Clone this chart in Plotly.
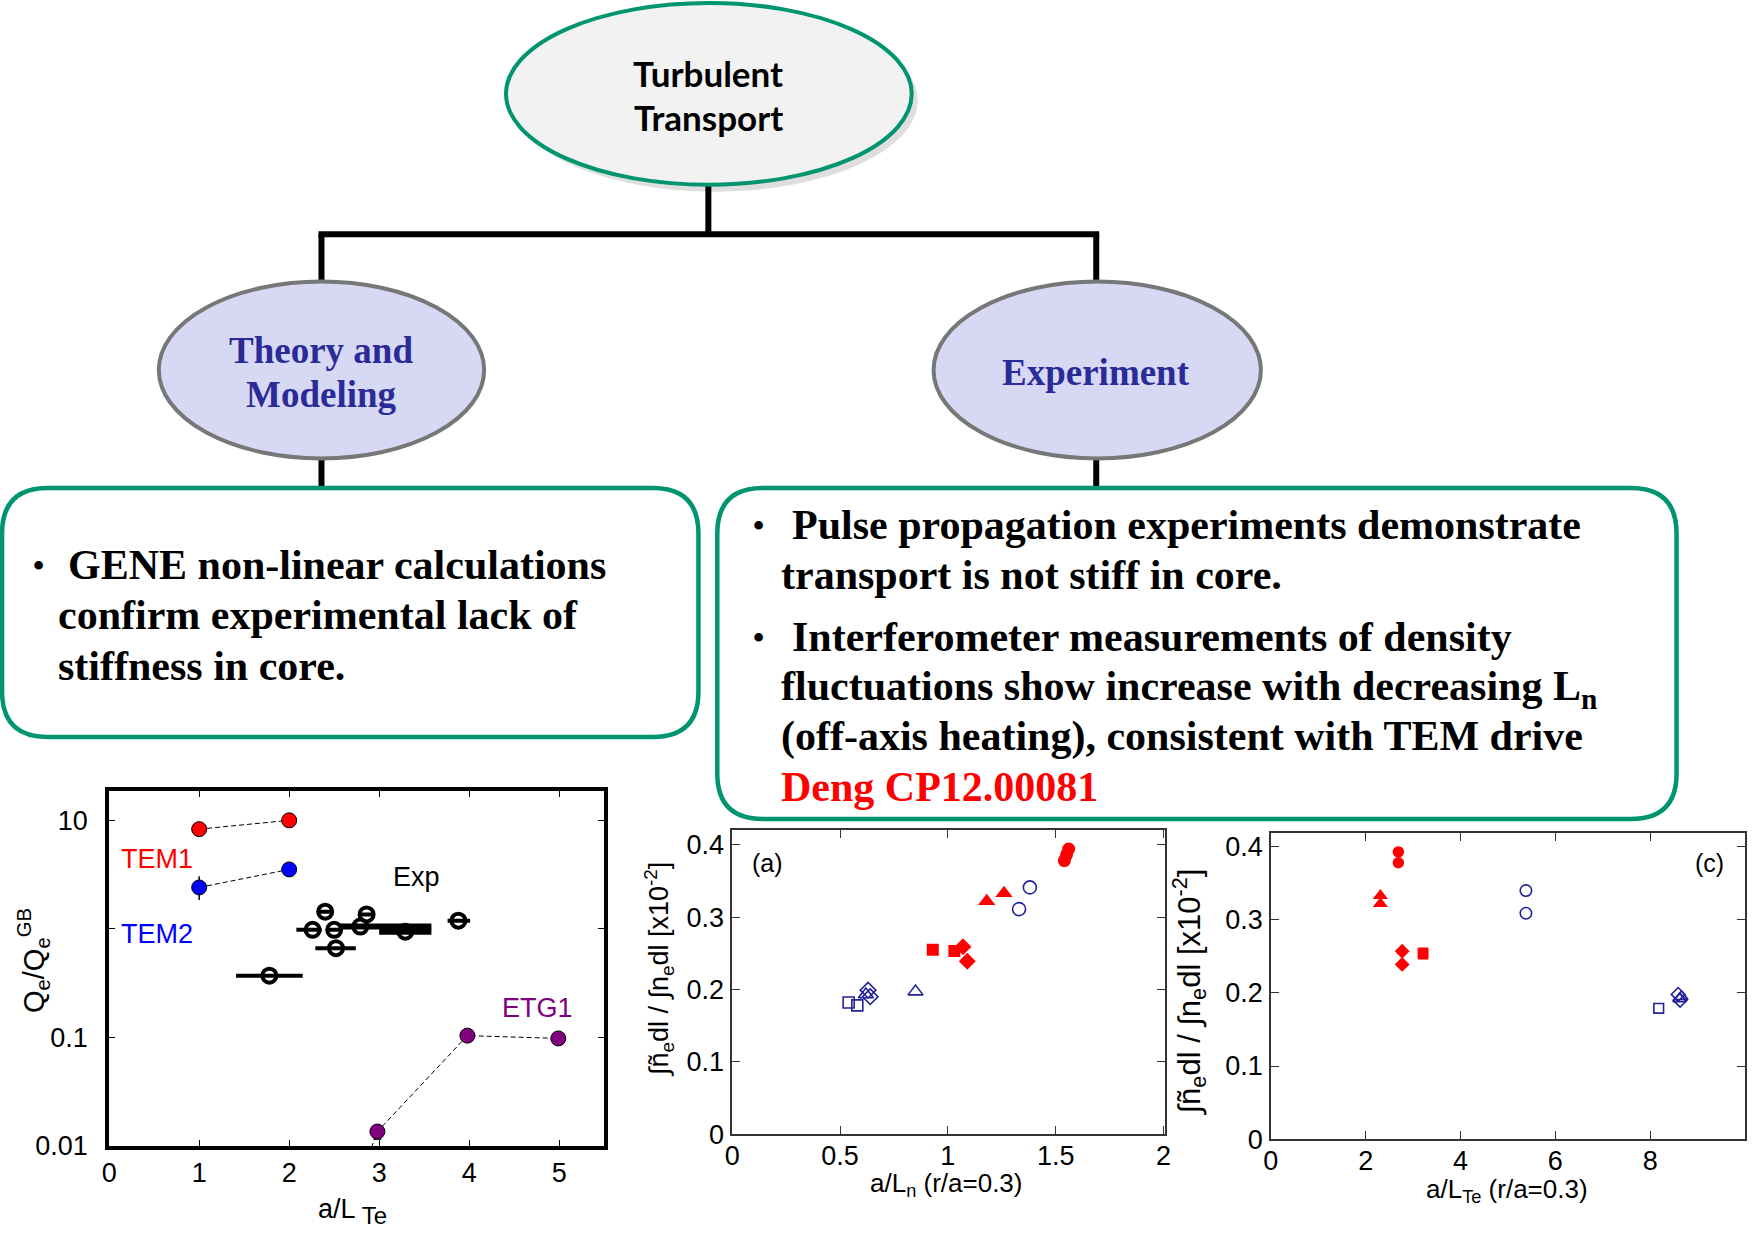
import plotly.graph_objects as go

W, H = 1752, 1246
SERIF = "Liberation Serif, Times New Roman, serif"
SANS = "Liberation Sans, Arial, sans-serif"
CAL = "Lato, Open Sans, sans-serif"
GREEN = "#00956f"
RED = "#ff0000"
NAVY = "#22229a"


def X(p):
    return p / W


def Y(p):
    return 1 - p / H


# ---------------- data: GENE panel (left) ----------------
tem1_x = [1, 2]
tem1_y = [8.3, 10.0]
tem2_x = [1, 2]
tem2_y = [2.41, 3.53]
tem2_err_plus = [0.65, 0.0]
tem2_err_minus = [0.56, 0.0]
etg1_x = [2.82, 2.98, 3.98, 4.99]
etg1_y = [0.006, 0.0136, 0.104, 0.098]
etg1_err_plus = [0, 0.0, 0, 0]
etg1_err_minus = [0, 0.002, 0, 0]
# experimental points, thin error bars
exp_x = [1.78, 2.40, 2.26, 2.50, 2.52, 2.86, 3.88]
exp_y = [0.371, 1.44, 0.98, 0.98, 0.665, 1.36, 1.19]
exp_xerr_plus = [0.37, 0.06, 0.10, 0.06, 0.22, 0.06, 0.13]
exp_xerr_minus = [0.37, 0.06, 0.18, 0.06, 0.23, 0.06, 0.12]
# experimental points with heavy error bars
expb_x = [2.79, 3.29]
expb_y = [1.05, 0.944]
expb_xerr_plus = [0.79, 0.29]
expb_xerr_minus = [0.24, 0.29]
left_xticks = [0, 1, 2, 3, 4, 5]
left_yticks = [0.01, 0.1, 1, 10]
left_yticktext = ["0.01", "0.1", "", "10"]

# ---------------- data: panel (a)  vs a/Ln ----------------
a_red_circle_x = [1.54, 1.55, 1.56]
a_red_circle_y = [0.378, 0.386, 0.394]
a_red_tri_x = [1.18, 1.26]
a_red_tri_y = [0.322, 0.333]
a_red_sq_x = [0.93, 1.03]
a_red_sq_y = [0.255, 0.253]
a_red_dia_x = [1.07, 1.09]
a_red_dia_y = [0.259, 0.239]
a_blue_circle_x = [1.33, 1.38]
a_blue_circle_y = [0.311, 0.341]
a_blue_tri_x = [0.85, 0.62]
a_blue_tri_y = [0.197, 0.193]
a_blue_sq_x = [0.54, 0.58]
a_blue_sq_y = [0.182, 0.178]
a_blue_dia_x = [0.63, 0.64]
a_blue_dia_y = [0.199, 0.190]

# ---------------- data: panel (c)  vs a/LTe ----------------
c_red_circle_x = [2.69, 2.69]
c_red_circle_y = [0.393, 0.378]
c_red_tri_x = [2.31, 2.31]
c_red_tri_y = [0.333, 0.322]
c_red_sq_x = [3.21, 3.21]
c_red_sq_y = [0.255, 0.253]
c_red_dia_x = [2.77, 2.77]
c_red_dia_y = [0.257, 0.239]
c_blue_circle_x = [5.38, 5.38]
c_blue_circle_y = [0.340, 0.309]
c_blue_tri_x = [8.66, 8.62]
c_blue_tri_y = [0.195, 0.192]
c_blue_sq_x = [8.18]
c_blue_sq_y = [0.179]
c_blue_dia_x = [8.59, 8.63]
c_blue_dia_y = [0.198, 0.190]

a_xticks = [0, 0.5, 1, 1.5, 2]
a_xticktext = ["0", "0.5", "1", "1.5", "2"]
c_xticks = [0, 2, 4, 6, 8, 10]
ab_yticks = [0, 0.1, 0.2, 0.3, 0.4]
ab_yticktext = ["0", "0.1", "0.2", "0.3", "0.4"]

fig = go.Figure()

# ---- left panel traces ----
dash = "5px,3px"
fig.add_trace(go.Scatter(
    x=tem1_x, y=tem1_y, mode="lines+markers", xaxis="x", yaxis="y",
    line=dict(color="black", width=1, dash=dash),
    marker=dict(size=15, color=RED, line=dict(color="black", width=1))))
fig.add_trace(go.Scatter(
    x=tem2_x, y=tem2_y, mode="lines+markers", xaxis="x", yaxis="y",
    line=dict(color="black", width=1, dash=dash),
    marker=dict(size=15, color="#0000ff", line=dict(color="black", width=1)),
    error_y=dict(type="data", array=tem2_err_plus, arrayminus=tem2_err_minus,
                 color="black", thickness=1.5, width=0)))
fig.add_trace(go.Scatter(
    x=etg1_x, y=etg1_y, mode="lines+markers", xaxis="x", yaxis="y",
    line=dict(color="black", width=1, dash=dash),
    marker=dict(size=15, color="#800080", line=dict(color="black", width=1)),
    error_y=dict(type="data", array=etg1_err_plus, arrayminus=etg1_err_minus,
                 color="black", thickness=1.2, width=4)))
fig.add_trace(go.Scatter(
    x=exp_x, y=exp_y, mode="markers", xaxis="x", yaxis="y",
    marker=dict(symbol="circle-open", size=14, color="black", line=dict(width=4)),
    error_x=dict(type="data", array=exp_xerr_plus, arrayminus=exp_xerr_minus,
                 color="black", thickness=4, width=0)))
fig.add_trace(go.Scatter(
    x=expb_x, y=expb_y, mode="markers", xaxis="x", yaxis="y",
    marker=dict(symbol="circle-open", size=14, color="black", line=dict(width=4)),
    error_x=dict(type="data", array=expb_xerr_plus, arrayminus=expb_xerr_minus,
                 color="black", thickness=6, width=0)))


def group(xs, ys, sym, color, size, ax, ay, open_=False):
    if open_:
        m = dict(symbol=sym + "-open", size=size, color=color, line=dict(width=1.6))
    else:
        m = dict(symbol=sym, size=size, color=color, line=dict(width=0))
    fig.add_trace(go.Scatter(x=xs, y=ys, mode="markers", marker=m, xaxis=ax, yaxis=ay))


for (ax, ay, s, d) in [("x2", "y2", 1.0, dict(
        rc=(a_red_circle_x, a_red_circle_y), rt=(a_red_tri_x, a_red_tri_y),
        rs=(a_red_sq_x, a_red_sq_y), rd=(a_red_dia_x, a_red_dia_y),
        bc=(a_blue_circle_x, a_blue_circle_y), bt=(a_blue_tri_x, a_blue_tri_y),
        bs=(a_blue_sq_x, a_blue_sq_y), bd=(a_blue_dia_x, a_blue_dia_y))),
        ("x3", "y3", 0.88, dict(
        rc=(c_red_circle_x, c_red_circle_y), rt=(c_red_tri_x, c_red_tri_y),
        rs=(c_red_sq_x, c_red_sq_y), rd=(c_red_dia_x, c_red_dia_y),
        bc=(c_blue_circle_x, c_blue_circle_y), bt=(c_blue_tri_x, c_blue_tri_y),
        bs=(c_blue_sq_x, c_blue_sq_y), bd=(c_blue_dia_x, c_blue_dia_y)))]:
    group(*d["bc"], "circle", NAVY, 13 * s, ax, ay, True)
    group(*d["bt"], "triangle-up", NAVY, 13 * s, ax, ay, True)
    group(*d["bs"], "square", NAVY, 11 * s, ax, ay, True)
    group(*d["bd"], "diamond", NAVY, 12 * s, ax, ay, True)
    group(*d["rc"], "circle", RED, 13 * s, ax, ay)
    group(*d["rt"], "triangle-up", RED, 15 * s, ax, ay)
    group(*d["rs"], "square", RED, 12 * s, ax, ay)
    group(*d["rd"], "diamond", RED, 13 * s, ax, ay)

# ---- axes ----
tickfont = dict(family=SANS, size=27, color="black")
left_ax = dict(showgrid=False, zeroline=False, showline=True, mirror="ticks",
               linecolor="black", linewidth=4, ticks="inside", ticklen=6,
               tickwidth=1, tickcolor="black", tickfont=tickfont)
fig.update_layout(
    xaxis=dict(left_ax, domain=[X(102), X(601)], range=[0, 5.5],
               tickvals=left_xticks, anchor="y", ticklabelstandoff=0),
    yaxis=dict(left_ax, domain=[Y(1160), Y(801)], type="log", range=[-2, 1.267],
               tickvals=left_yticks, ticktext=left_yticktext, anchor="x",
               ticklabelstandoff=12),
)
r_ax = dict(showgrid=False, zeroline=False, showline=True, mirror="ticks",
            linecolor="#333333", linewidth=1.5, ticks="inside", ticklen=8,
            tickwidth=1.2, tickcolor="#333333", tickfont=tickfont)
fig.update_layout(
    xaxis2=dict(r_ax, domain=[X(730), X(1166)], range=[0, 2.005],
                tickvals=a_xticks, ticktext=a_xticktext, anchor="y2",
                ticklabelstandoff=-3),
    yaxis2=dict(r_ax, domain=[Y(1148), Y(840)], range=[0, 0.4205],
                tickvals=ab_yticks, ticktext=ab_yticktext, anchor="x2",
                ticklabelstandoff=1),
    xaxis3=dict(r_ax, domain=[X(1273), X(1751)], range=[0, 10],
                tickvals=c_xticks, anchor="y3", ticklabelstandoff=-3),
    yaxis3=dict(r_ax, domain=[Y(1153), Y(843)], range=[0, 0.419],
                tickvals=ab_yticks, ticktext=ab_yticktext, anchor="x3",
                ticklabelstandoff=1),
)

# ---- diagram shapes ----
shapes = []


def line(x0, y0, x1, y1, w=6):
    shapes.append(dict(type="line", xref="paper", yref="paper",
                       x0=X(x0), y0=Y(y0), x1=X(x1), y1=Y(y1),
                       line=dict(color="black", width=w)))


def ellipse(x0, y0, x1, y1, fill, lc, lw):
    shapes.append(dict(type="circle", xref="paper", yref="paper",
                       x0=X(x0), y0=Y(y1), x1=X(x1), y1=Y(y0),
                       fillcolor=fill, line=dict(color=lc, width=lw)))


def rbox(x0, y0, x1, y1, r, lc, lw):
    p = (f"M {X(x0 + r)},{Y(y0)} L {X(x1 - r)},{Y(y0)} Q {X(x1)},{Y(y0)} {X(x1)},{Y(y0 + r)} "
         f"L {X(x1)},{Y(y1 - r)} Q {X(x1)},{Y(y1)} {X(x1 - r)},{Y(y1)} "
         f"L {X(x0 + r)},{Y(y1)} Q {X(x0)},{Y(y1)} {X(x0)},{Y(y1 - r)} "
         f"L {X(x0)},{Y(y0 + r)} Q {X(x0)},{Y(y0)} {X(x0 + r)},{Y(y0)} Z")
    shapes.append(dict(type="path", xref="paper", yref="paper", path=p,
                       fillcolor="white", line=dict(color=lc, width=lw)))


line(706, 185, 706, 237)
line(313, 237, 1100, 237)
line(316, 237, 316, 287)
line(1097, 237, 1097, 287)
line(316, 462, 316, 496)
line(1097, 462, 1097, 496)
# shadow of top ellipse
ellipse(508, 9, 917, 194, "rgba(0,0,0,0.13)", "rgba(0,0,0,0)", 0)
ellipse(502, 3, 911, 187, "#f2f2f2", GREEN, 4)
ellipse(152, 285, 480, 464, "#d6d8f4", "#777777", 4)
ellipse(933, 285, 1263, 464, "#d6d8f4", "#777777", 4)
rbox(-6, 494, 696, 746, 46, GREEN, 4.5)
rbox(715, 494, 1682, 829, 46, GREEN, 4.5)

# ---- annotations ----
anns = []


def ann(text, x, y, size, color="black", family=SERIF, xanchor="left", angle=0,
        xref="paper", yref="paper", paper=True):
    anns.append(dict(text=text, x=X(x) if paper else x, y=Y(y) if paper else y,
                     xref=xref, yref=yref, showarrow=False, xanchor=xanchor,
                     yanchor="middle", textangle=angle,
                     font=dict(family=family, size=size, color=color)))


ann("<b>Turbulent</b>", 706, 74, 35, family=CAL, xanchor="center")
ann("<b>Transport</b>", 706, 118, 35, family=CAL, xanchor="center")
ann("<b>Theory and</b>", 316, 355, 37, color="#2b2b98", xanchor="center")
ann("<b>Modeling</b>", 316, 399, 37, color="#2b2b98", xanchor="center")
ann("<b>Experiment</b>", 1097, 377, 37, color="#2b2b98", xanchor="center")

ann("<b>•</b>", 31, 572, 32, xanchor="center")
ann("<b>GENE non-linear calculations</b>", 58, 572, 42)
ann("<b>confirm experimental lack of</b>", 48, 622, 42)
ann("<b>stiffness in core.</b>", 48, 674, 42)

ann("<b>•</b>", 757, 531, 32, xanchor="center")
ann("<b>Pulse propagation experiments demonstrate</b>", 788, 531, 42)
ann("<b>transport is not stiff in core.</b>", 777, 582, 42)
ann("<b>•</b>", 757, 645, 32, xanchor="center")
ann("<b>Interferometer measurements of density</b>", 788, 645, 42)
ann("<b>fluctuations show increase with decreasing L<sub>n</sub></b>", 777, 697, 42)
ann("<b>(off-axis heating), consistent with TEM drive</b>", 777, 745, 42)
ann("<b>Deng CP12.00081</b>", 777, 797, 42, color=RED)

# left panel labels (data coords; log axis uses log10)
ann("TEM1", 0.53, 0.64, 27, color="#ff0000", family=SANS, xanchor="center",
    xref="x", yref="y", paper=False)
ann("TEM2", 0.53, -0.047, 27, color="#0000ff", family=SANS, xanchor="center",
    xref="x", yref="y", paper=False)
ann("Exp", 3.41, 0.48, 27, family=SANS, xanchor="center", xref="x", yref="y", paper=False)
ann("ETG1", 4.76, -0.725, 27, color="#800080", family=SANS, xanchor="center",
    xref="x", yref="y", paper=False)
ann("a/L<sub><span style='font-size:24px'> Te</span></sub>", 347, 1226, 27,
    family=SANS, xanchor="center")
ann("Q<sub>e</sub>/Q<sub>e</sub><sup>GB</sup>", 26, 972, 29, family=SANS,
    xanchor="center", angle=-90)

# panel (a), (c) labels
ann("(a)", 0.164, 0.375, 25, family=SANS, xanchor="center", xref="x2", yref="y2", paper=False)
ann("(c)", 9.26, 0.378, 25, family=SANS, xanchor="center", xref="x3", yref="y3", paper=False)
ann("a/L<sub>n</sub> (r/a=0.3)", 946, 1199, 26, family=SANS, xanchor="center")
ann("a/L<sub>Te</sub> (r/a=0.3)", 1511, 1205, 26, family=SANS, xanchor="center")
ytitle = "∫ñ<sub>e</sub>dl / ∫n<sub>e</sub>dl [x10<sup>-2</sup>]"
ann(ytitle, 656, 981, 27, family=SANS, xanchor="center", angle=-90)
ann(ytitle, 1191, 1004, 31, family=SANS, xanchor="center", angle=-90)

fig.update_layout(
    width=W, height=H, margin=dict(l=0, r=0, t=0, b=0),
    paper_bgcolor="white", plot_bgcolor="white", showlegend=False,
    shapes=shapes, annotations=anns,
)

post = (
    "document.documentElement.style.margin='0';"
    "document.documentElement.style.overflow='hidden';"
    "document.body.style.margin='0';"
    "document.body.style.overflow='hidden';"
    "var d=document.getElementById('{plot_id}');"
    "d.style.position='fixed';d.style.left='0px';d.style.top='0px';"
)
fig.write_html("out.html", config={"displayModeBar": False}, post_script=post)
